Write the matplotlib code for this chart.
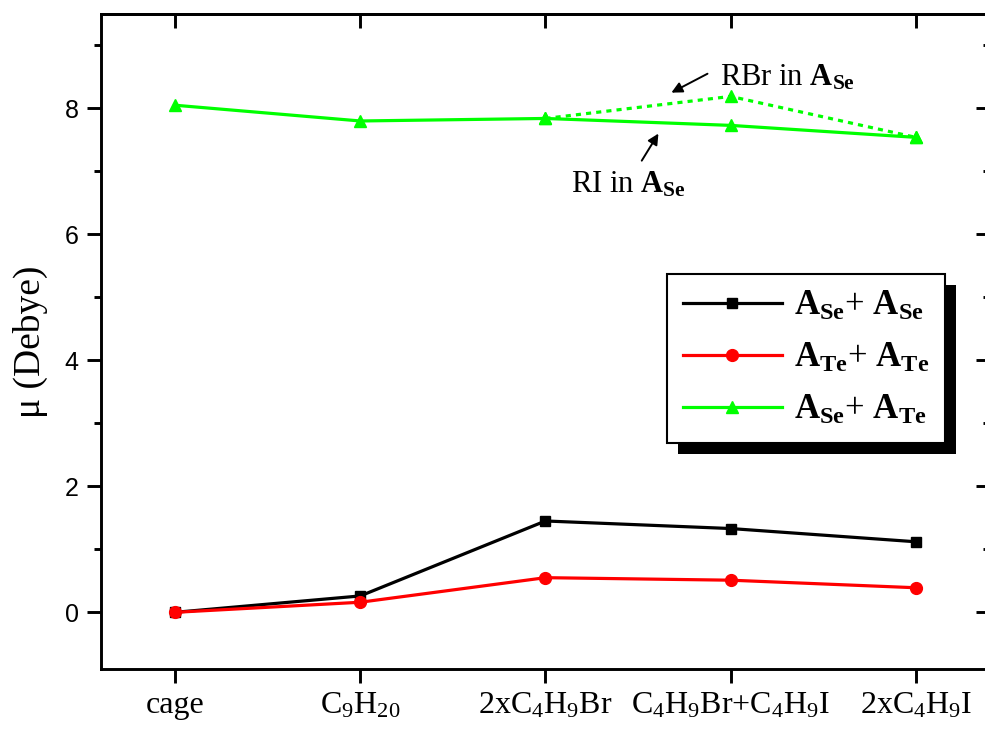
import matplotlib
matplotlib.use("Agg")
import matplotlib.pyplot as plt
from matplotlib.patches import Rectangle
from matplotlib.ticker import MultipleLocator

plt.rcParams['font.family'] = ['Liberation Serif', 'DejaVu Serif']
plt.rcParams['mathtext.fontset'] = 'custom'
plt.rcParams['mathtext.rm'] = 'Liberation Serif'
plt.rcParams['mathtext.bf'] = 'Liberation Serif:bold'
plt.rcParams['mathtext.it'] = 'Liberation Serif:italic'

# data
systems = ['cage', r'$\mathrm{C_9H_{20}}$', r'$\mathrm{2xC_4H_9Br}$',
           r'$\mathrm{C_4H_9Br}$+$\mathrm{C_4H_9I}$', r'$\mathrm{2xC_4H_9I}$']
x = [1, 2, 3, 4, 5]
se_se = [0.0, 0.26, 1.45, 1.33, 1.12]
te_te = [0.0, 0.16, 0.55, 0.51, 0.39]
se_te = [8.05, 7.80, 7.84, 7.73, 7.54]
# RBr variant of the last two points (dotted)
x_rbr = [3, 4, 5]
se_te_rbr = [7.84, 8.19, 7.54]

lab_sese = r'$\mathbf{A_{Se}}$+ $\mathbf{A_{Se}}$'
lab_tete = r'$\mathbf{A_{Te}}$+ $\mathbf{A_{Te}}$'
lab_sete = r'$\mathbf{A_{Se}}$+ $\mathbf{A_{Te}}$'

LW = 2.3    # data line width
SW = 2.1    # spine / tick width

fig = plt.figure(figsize=(9.85, 7.31), dpi=100)
ax = fig.add_axes([0.1025, 0.0848, 0.9025, 0.8962])

green = '#00ff00'
ax.plot(x_rbr, se_te_rbr, color=green, lw=LW, ls=(0, (1.6, 1.6)),
        marker='^', ms=9, zorder=2)
ax.plot(x, se_se, color='black', lw=LW, marker='s', ms=7.5,
        label=lab_sese, zorder=3)
ax.plot(x, te_te, color='red', lw=LW, marker='o', ms=8.5, label=lab_tete, zorder=3)
ax.plot(x, se_te, color=green, lw=LW, marker='^', ms=9, label=lab_sete, zorder=3)

ax.set_xlim(0.6, 5.4)
ax.set_ylim(-0.9, 9.5)
ax.set_xticks(x)
ax.set_xticklabels(systems, fontsize=23)
ax.yaxis.set_major_locator(MultipleLocator(2))
ax.yaxis.set_minor_locator(MultipleLocator(1))
for lbl in ax.get_yticklabels():
    lbl.set_family('Liberation Sans')
    lbl.set_fontsize(18)

ax.set_ylabel(u'\u03bc (Debye)', fontsize=27, labelpad=12)

for s in ax.spines.values():
    s.set_linewidth(SW)
ax.tick_params(axis='both', which='major', direction='out', length=10, width=SW, pad=6)
ax.tick_params(axis='y', which='minor', direction='out', length=5, width=SW)

# inward ticks on top and right
top = ax.secondary_xaxis('top')
top.set_xticks(x)
top.tick_params(direction='in', length=10, width=SW, labeltop=False)
top.spines['top'].set_linewidth(SW)
right = ax.secondary_yaxis('right')
right.yaxis.set_major_locator(MultipleLocator(2))
right.yaxis.set_minor_locator(MultipleLocator(1))
right.tick_params(which='major', direction='in', length=10, width=SW, labelright=False)
right.tick_params(which='minor', direction='in', length=5, width=SW)
right.spines['right'].set_linewidth(SW)

# annotations
arrow = dict(arrowstyle='-|>', color='black', lw=1.4, mutation_scale=16,
             shrinkA=0, shrinkB=0)
ax.text(3.94, 8.37, r'RBr in $\mathbf{A_{Se}}$', fontsize=22, ha='left', va='baseline')
ax.annotate('', xy=(3.68, 8.25), xytext=(3.875, 8.55), arrowprops=arrow)
ax.text(3.14, 6.67, r'RI in $\mathbf{A_{Se}}$', fontsize=22, ha='left', va='baseline')
ax.annotate('', xy=(3.61, 7.60), xytext=(3.52, 7.17), arrowprops=arrow)

leg = ax.legend(loc='upper left', bbox_to_anchor=(0.637, 0.603), borderaxespad=0,
                fontsize=25, handlelength=2.85, handletextpad=0.35,
                labelspacing=0.55, fancybox=False, framealpha=1,
                edgecolor='black', borderpad=0.45)
leg.get_frame().set_linewidth(1.5)
leg.set_zorder(6)

# shadow behind the legend box
fig.canvas.draw()
bb = leg.get_window_extent()
inv = ax.transAxes.inverted()
(x0, y0) = inv.transform((bb.x0 + 11, bb.y0 - 11))
(x1, y1) = inv.transform((bb.x1 + 11, bb.y1 - 11))
ax.add_patch(Rectangle((x0, y0), x1 - x0, y1 - y0, transform=ax.transAxes,
                       facecolor='black', edgecolor='none', zorder=5.5,
                       clip_on=False))

fig.savefig('out.png', dpi=100)
